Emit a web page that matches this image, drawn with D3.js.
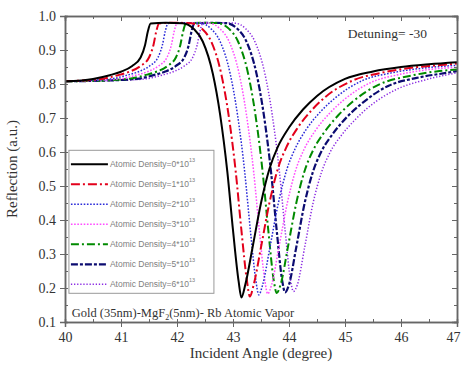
<!DOCTYPE html>
<html lang="en">
<head>
<meta charset="UTF-8">
<title>Reflection vs Incident Angle</title>
<script src="https://d3js.org/d3.v7.min.js"></script>
<style>
  body { margin: 0; background: #fff; }
  svg text { font-family: "Liberation Serif", "DejaVu Serif", serif; fill: #333; }
  .leg text { font-family: "Liberation Sans", Arial, sans-serif; fill: #808080; }
</style>
</head>
<body>
<div id="chart"></div>
<script>
// [angle (degree), reflection] for each atomic density
const density0 = [[40.0,0.808],[40.5,0.815],[40.8,0.826],[41.0,0.836],[41.2,0.853],[41.35,0.878],[41.43,0.915],[41.48,0.955],[41.53,0.978],[41.8,0.98],[42.1,0.979],[42.3,0.962],[42.46,0.925],[42.64,0.83],[42.77,0.71],[42.9,0.54],[43.0,0.37],[43.1,0.22],[43.15,0.172],[43.22,0.21],[43.35,0.32],[43.5,0.45],[43.65,0.55],[43.8,0.615],[44.0,0.672],[44.25,0.725],[44.5,0.765],[45.0,0.815],[45.5,0.837],[46.0,0.85],[46.5,0.858],[47.0,0.864]];
const density1 = [[40.0,0.808],[40.65,0.815],[40.95,0.826],[41.15,0.836],[41.35,0.853],[41.5,0.878],[41.58,0.915],[41.63,0.955],[41.68,0.978],[41.95,0.98],[42.25,0.979],[42.45,0.962],[42.61,0.925],[42.79,0.83],[42.92,0.71],[43.05,0.54],[43.15,0.37],[43.25,0.22],[43.3,0.175],[43.37,0.21],[43.5,0.32],[43.65,0.45],[43.8,0.55],[43.95,0.613],[44.15,0.67],[44.4,0.722],[44.65,0.762],[45.15,0.811],[45.65,0.833],[46.15,0.847],[46.65,0.855],[47.0,0.86]];
const density2 = [[40.0,0.808],[40.81,0.815],[41.11,0.826],[41.31,0.836],[41.51,0.853],[41.66,0.878],[41.74,0.915],[41.79,0.955],[41.84,0.978],[42.11,0.98],[42.41,0.979],[42.61,0.962],[42.77,0.925],[42.95,0.83],[43.08,0.71],[43.21,0.54],[43.31,0.37],[43.41,0.22],[43.46,0.18],[43.53,0.21],[43.66,0.32],[43.81,0.45],[43.96,0.548],[44.11,0.61],[44.31,0.667],[44.56,0.718],[44.81,0.757],[45.31,0.81],[45.81,0.832],[46.31,0.845],[46.81,0.853],[47.0,0.855]];
const density3 = [[40.0,0.808],[40.97,0.815],[41.27,0.826],[41.47,0.836],[41.67,0.853],[41.82,0.878],[41.9,0.915],[41.95,0.955],[42.0,0.978],[42.27,0.98],[42.57,0.979],[42.77,0.962],[42.93,0.925],[43.11,0.83],[43.24,0.71],[43.37,0.54],[43.47,0.37],[43.57,0.22],[43.62,0.183],[43.69,0.21],[43.82,0.32],[43.97,0.45],[44.12,0.547],[44.27,0.608],[44.47,0.663],[44.72,0.713],[44.97,0.752],[45.47,0.805],[45.97,0.828],[46.47,0.842],[47.0,0.849]];
const density4 = [[40.0,0.808],[40.6,0.81],[41.13,0.815],[41.43,0.826],[41.63,0.836],[41.83,0.853],[41.98,0.878],[42.06,0.915],[42.11,0.955],[42.16,0.978],[42.43,0.98],[42.73,0.979],[42.93,0.962],[43.09,0.925],[43.27,0.83],[43.4,0.71],[43.53,0.54],[43.63,0.37],[43.73,0.22],[43.78,0.185],[43.85,0.21],[43.98,0.32],[44.13,0.45],[44.28,0.545],[44.43,0.605],[44.63,0.658],[44.88,0.708],[45.13,0.747],[45.63,0.8],[46.13,0.823],[46.63,0.837],[47.0,0.843]];
const density5 = [[40.0,0.808],[40.7,0.81],[41.28,0.815],[41.58,0.826],[41.78,0.836],[41.98,0.853],[42.13,0.878],[42.21,0.915],[42.26,0.955],[42.31,0.978],[42.58,0.98],[42.88,0.979],[43.08,0.962],[43.24,0.925],[43.42,0.83],[43.55,0.71],[43.68,0.54],[43.78,0.37],[43.88,0.22],[43.93,0.187],[44.0,0.21],[44.13,0.32],[44.28,0.45],[44.43,0.543],[44.58,0.602],[44.78,0.653],[45.03,0.702],[45.28,0.74],[45.78,0.795],[46.28,0.818],[46.78,0.832],[47.0,0.838]];
const density6 = [[40.0,0.808],[40.8,0.81],[41.43,0.815],[41.73,0.826],[41.93,0.836],[42.13,0.853],[42.28,0.878],[42.36,0.915],[42.41,0.955],[42.46,0.978],[42.73,0.98],[43.03,0.979],[43.23,0.962],[43.39,0.925],[43.57,0.83],[43.7,0.71],[43.83,0.54],[43.93,0.37],[44.03,0.22],[44.08,0.19],[44.15,0.21],[44.28,0.32],[44.43,0.45],[44.58,0.54],[44.73,0.598],[44.93,0.648],[45.18,0.695],[45.43,0.733],[45.93,0.785],[46.43,0.812],[47.0,0.833]];

const seriesData = [density0, density1, density2, density3, density4, density5, density6];
const seriesNames = ["0", "1", "2", "3", "4", "5", "6"];
const xTicks = [40, 41, 42, 43, 44, 45, 46, 47];
const yTicks = [0.1, 0.2, 0.3, 0.4, 0.5, 0.6, 0.7, 0.8, 0.9, 1.0];

const colors = ["#000000", "#e3001b", "#2a2ad8", "#ff4cff", "#008a00", "#0b0b70", "#8b2be2"];
const dashes = ["none", "9,3,2,3", "1.6,1.6", "1.6,1.6", "8,3,2,3", "7,2,3,2", "1.3,1.8"];
const widths = [2, 2, 1.5, 1.5, 2, 2.2, 1.5];

const width = 461, height = 367;
const margin = {top: 16, right: 4, bottom: 45, left: 65};
const iw = width - margin.left - margin.right;
const ih = height - margin.top - margin.bottom;

const svg = d3.select("#chart").append("svg")
    .attr("width", width)
    .attr("height", height);

const g = svg.append("g")
    .attr("transform", `translate(${margin.left},${margin.top})`);

const x = d3.scaleLinear().domain([40, 47]).range([0, iw]);
const y = d3.scaleLinear().domain([0.1, 1.0]).range([ih, 0]);

g.append("defs").append("clipPath").attr("id", "clip")
  .append("rect").attr("width", iw).attr("height", ih);

// curves, drawn last-first so black sits on top
const line = d3.line()
    .x(d => x(d[0]))
    .y(d => y(d[1]))
    .curve(d3.curveMonotoneX);

g.append("g").attr("clip-path", "url(#clip)")
  .selectAll("path")
  .data(seriesData.slice().reverse())
  .join("path")
    .attr("fill", "none")
    .attr("stroke", (d, i) => colors[6 - i])
    .attr("stroke-width", (d, i) => widths[6 - i])
    .attr("stroke-dasharray", (d, i) => dashes[6 - i])
    .attr("d", line);

// axes frame with ticks on all sides
const axisColor = "#666";
const xMinor = d3.range(40, 47.01, 0.5);
const yMinor = d3.range(0.1, 1.001, 0.05);

const axBottom = g.append("g").attr("transform", `translate(0,${ih})`)
    .call(d3.axisBottom(x).tickValues(xTicks).tickFormat(d3.format("d")).tickSize(5).tickPadding(5));
const axLeft = g.append("g")
    .call(d3.axisLeft(y).tickValues(yTicks).tickFormat(d3.format(".1f")).tickSize(5).tickPadding(4));
g.append("g")
    .call(d3.axisTop(x).tickValues(xTicks).tickFormat("").tickSize(-5));
g.append("g").attr("transform", `translate(${iw},0)`)
    .call(d3.axisRight(y).tickValues(yTicks).tickFormat("").tickSize(-5));

g.append("g").attr("transform", `translate(0,${ih})`)
    .call(d3.axisBottom(x).tickValues(xMinor).tickFormat("").tickSize(-3));
g.append("g")
    .call(d3.axisTop(x).tickValues(xMinor).tickFormat("").tickSize(-3));
g.append("g")
    .call(d3.axisLeft(y).tickValues(yMinor).tickFormat("").tickSize(-3));
g.append("g").attr("transform", `translate(${iw},0)`)
    .call(d3.axisRight(y).tickValues(yMinor).tickFormat("").tickSize(-3));

g.selectAll(".domain").attr("stroke", axisColor).attr("stroke-width", 1.5);
g.selectAll(".tick line").attr("stroke", axisColor);
axBottom.selectAll("text").attr("font-size", 14).attr("fill", "#333");
axLeft.selectAll("text").attr("font-size", 14).attr("fill", "#333");
// last label sits at the page edge, keep it inside
axBottom.selectAll("text").filter(d => d === 47).attr("dx", -4);

// axis titles
svg.append("text")
    .attr("x", margin.left + iw / 2)
    .attr("y", 358)
    .attr("text-anchor", "middle")
    .attr("font-size", 15)
    .text("Incident Angle (degree)");

svg.append("text")
    .attr("transform", `translate(17,${margin.top + ih / 2}) rotate(-90)`)
    .attr("text-anchor", "middle")
    .attr("font-size", 15)
    .text("Reflection (a.u.)");

// annotations
g.append("text")
    .attr("x", x(45.05))
    .attr("y", y(0.935))
    .attr("font-size", 13.5)
    .text("Detuning= -30");

const note = g.append("text")
    .attr("x", x(40.12))
    .attr("y", y(0.115))
    .attr("font-size", 12.5);
note.append("tspan").text("Gold (35nm)-MgF");
note.append("tspan").attr("font-size", 8).attr("dy", 3).text("2");
note.append("tspan").attr("dy", -3).text("(5nm)- Rb Atomic Vapor");

// legend
const lx = x(40.07), ly = y(0.605);
const leg = g.append("g").attr("class", "leg");
leg.append("rect")
    .attr("x", lx).attr("y", ly)
    .attr("width", 145).attr("height", 143)
    .attr("fill", "none").attr("stroke", "#999").attr("stroke-width", 1);

const items = leg.selectAll("g.item")
  .data(seriesNames)
  .join("g")
    .attr("class", "item")
    .attr("transform", (d, i) => `translate(${lx + 2},${ly + 14 + i * 20})`);

items.append("line")
    .attr("x1", 0).attr("x2", 37)
    .attr("stroke", (d, i) => colors[i])
    .attr("stroke-width", (d, i) => widths[i])
    .attr("stroke-dasharray", (d, i) => dashes[i]);

const lt = items.append("text")
    .attr("x", 39).attr("y", 3)
    .attr("font-size", 8.5);
lt.append("tspan").text(d => `Atomic Density=${d}*10`);
lt.append("tspan").attr("font-size", 5.5).attr("dy", -5).text("13");
</script>
</body>
</html>
